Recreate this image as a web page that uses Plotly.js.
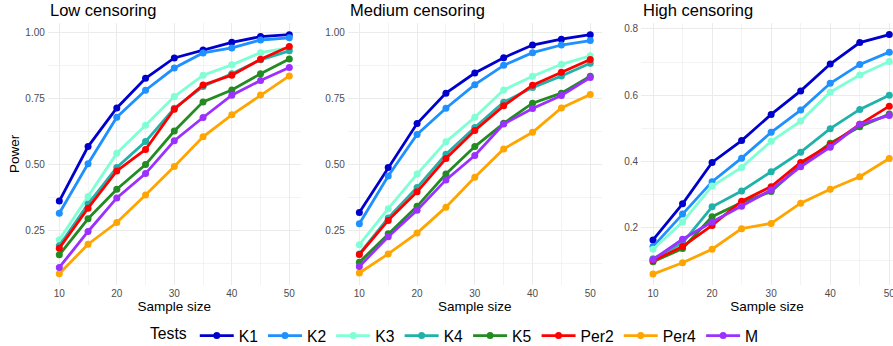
<!DOCTYPE html>
<html>
<head>
<meta charset="utf-8">
<script src="https://cdn.plot.ly/plotly-3.0.1.min.js"></script>
<style>
  html, body { margin: 0; padding: 0; background: #ffffff; }
  #chart { width: 893px; height: 346px; }
</style>
</head>
<body>
<div id="chart"></div>
<script>
// Power of each test by sample size, under three censoring levels
const sampleSizes = [10, 15, 20, 25, 30, 35, 40, 45, 50];
const testNames = ['K1', 'K2', 'K3', 'K4', 'K5', 'Per2', 'Per4', 'M'];
const panelTitles = ['Low censoring', 'Medium censoring', 'High censoring'];

// Low censoring
const low_K1   = [0.362, 0.568, 0.714, 0.826, 0.903, 0.933, 0.962, 0.984, 0.991];
const low_K2   = [0.316, 0.503, 0.679, 0.781, 0.865, 0.922, 0.941, 0.971, 0.979];
const low_K3   = [0.216, 0.379, 0.543, 0.649, 0.757, 0.838, 0.877, 0.923, 0.942];
const low_K4   = [0.193, 0.351, 0.489, 0.587, 0.713, 0.795, 0.843, 0.896, 0.930];
const low_K5   = [0.159, 0.295, 0.407, 0.500, 0.627, 0.737, 0.782, 0.843, 0.899];
const low_Per2 = [0.184, 0.335, 0.476, 0.557, 0.709, 0.801, 0.838, 0.898, 0.946];
const low_Per4 = [0.087, 0.199, 0.281, 0.385, 0.493, 0.605, 0.688, 0.763, 0.835];
const low_M    = [0.111, 0.247, 0.374, 0.466, 0.590, 0.678, 0.762, 0.818, 0.867];

// Medium censoring
const med_K1   = [0.319, 0.489, 0.655, 0.770, 0.846, 0.904, 0.952, 0.974, 0.991];
const med_K2   = [0.276, 0.457, 0.614, 0.713, 0.802, 0.875, 0.923, 0.952, 0.969];
const med_K3   = [0.197, 0.333, 0.464, 0.586, 0.679, 0.782, 0.834, 0.879, 0.911];
const med_K4   = [0.162, 0.298, 0.413, 0.539, 0.640, 0.736, 0.791, 0.835, 0.883];
const med_K5   = [0.131, 0.238, 0.342, 0.464, 0.568, 0.656, 0.732, 0.770, 0.834];
const med_Per2 = [0.160, 0.289, 0.397, 0.523, 0.629, 0.722, 0.800, 0.849, 0.897];
const med_Per4 = [0.090, 0.162, 0.241, 0.339, 0.452, 0.559, 0.622, 0.714, 0.765];
const med_M    = [0.115, 0.227, 0.327, 0.442, 0.534, 0.653, 0.712, 0.761, 0.829];

// High censoring
const high_K1   = [0.163, 0.272, 0.397, 0.463, 0.542, 0.613, 0.694, 0.759, 0.783];
const high_K2   = [0.143, 0.241, 0.339, 0.410, 0.488, 0.555, 0.636, 0.693, 0.730];
const high_K3   = [0.135, 0.217, 0.326, 0.382, 0.461, 0.522, 0.609, 0.661, 0.702];
const high_K4   = [0.106, 0.154, 0.263, 0.311, 0.369, 0.428, 0.499, 0.557, 0.600];
const high_K5   = [0.097, 0.137, 0.233, 0.276, 0.309, 0.389, 0.455, 0.505, 0.543];
const high_Per2 = [0.100, 0.143, 0.207, 0.280, 0.324, 0.397, 0.450, 0.512, 0.567];
const high_Per4 = [0.060, 0.094, 0.135, 0.197, 0.213, 0.274, 0.316, 0.354, 0.409];
const high_M    = [0.104, 0.165, 0.217, 0.265, 0.314, 0.384, 0.443, 0.512, 0.539];

const panels = [
  [low_K1, low_K2, low_K3, low_K4, low_K5, low_Per2, low_Per4, low_M],
  [med_K1, med_K2, med_K3, med_K4, med_K5, med_Per2, med_Per4, med_M],
  [high_K1, high_K2, high_K3, high_K4, high_K5, high_Per2, high_Per4, high_M]
];

const testColors = ['#0000CD', '#1E90FF', '#7FFFD4', '#20B2AA', '#228B22', '#FF0000', '#FFA500', '#9B30FF'];

const FONT = 'Liberation Sans, Arial, Helvetica, sans-serif';
const W = 893;

const traces = [];
panels.forEach((series, p) => {
  const ax = p === 0 ? '' : String(p + 1);
  series.forEach((vals, i) => {
    traces.push({
      type: 'scatter',
      mode: 'lines+markers',
      x: sampleSizes,
      y: vals,
      name: testNames[i],
      legendgroup: testNames[i],
      showlegend: p === 0,
      xaxis: 'x' + ax,
      yaxis: 'y' + ax,
      line: { color: testColors[i], width: 2.8 },
      marker: { color: testColors[i], size: 7 },
      cliponaxis: false
    });
  });
});

const grid = '#EBEBEB';
function xAxis(domain, range) {
  return {
    domain: domain, range: range,
    automargin: false,
    tick0: 10, dtick: 10,
    showgrid: true, gridcolor: grid, gridwidth: 1,
    minor: { dtick: 5, showgrid: true, gridcolor: grid, gridwidth: 0.6 },
    zeroline: false, showline: false, ticks: '',
    tickfont: { family: FONT, size: 10, color: '#4D4D4D' },
    ticklabelstandoff: 1,
    ticklabeloverflow: 'allow',
    title: { text: 'Sample size', font: { family: FONT, size: 13.5, color: '#000000' }, standoff: 1 }
  };
}
function yAxis(range, dtick, fmt, anchor, withTitle) {
  const a = {
    range: range, dtick: dtick, tick0: 0, tickformat: fmt,
    anchor: anchor,
    automargin: false,
    showgrid: true, gridcolor: grid, gridwidth: 1,
    minor: { dtick: dtick / 2, showgrid: true, gridcolor: grid, gridwidth: 0.6 },
    zeroline: false, showline: false, ticks: '',
    tickfont: { family: FONT, size: 10, color: '#4D4D4D' },
    ticklabelstandoff: 2
  };
  if (withTitle) {
    a.title = { text: 'Power', font: { family: FONT, size: 13.5, color: '#000000' }, standoff: 2 };
  }
  return a;
}

const px = v => v / W;
const titleY = 1.05;
const annotations = panelTitles.map((t, p) => ({
  text: t,
  xref: 'paper', yref: 'paper',
  x: [px(47.8), px(347.8), px(641.2)][p],
  y: titleY,
  xanchor: 'left', yanchor: 'middle',
  showarrow: false,
  font: { family: FONT, size: 16.5, color: '#000000' }
}));

const layout = {
  width: 893, height: 346,
  margin: { l: 0, r: 0, t: 23, b: 61, pad: 0, autoexpand: false },
  paper_bgcolor: '#ffffff', plot_bgcolor: '#ffffff',
  font: { family: FONT },
  showlegend: true,
  legend: {
    orientation: 'h',
    x: px(148), xanchor: 'left',
    y: -0.194, yanchor: 'middle',
    itemwidth: 34,
    font: { family: FONT, size: 15.7, color: '#000000' },
    title: { text: 'Tests', side: 'left', font: { family: FONT, size: 15.7, color: '#000000' } },
    bgcolor: 'rgba(0,0,0,0)',
    traceorder: 'normal'
  },
  xaxis: xAxis([px(47.8), px(300.8)], [8, 52]),
  xaxis2: Object.assign(xAxis([px(347.8), px(601.8)], [8, 52]), { anchor: 'y2' }),
  xaxis3: Object.assign(xAxis([px(641.2), 1], [8, 50.63]), { anchor: 'y3' }),
  yaxis: yAxis([0.0447, 1.0352], 0.25, '.2f', 'x', true),
  yaxis2: yAxis([0.0447, 1.0352], 0.25, '.2f', 'x2', false),
  yaxis3: yAxis([0.027, 0.818], 0.2, '.1f', 'x3', false),
  annotations: annotations
};
layout.xaxis.anchor = 'y';

Plotly.newPlot('chart', traces, layout, { staticPlot: true, displayModeBar: false });
</script>
</body>
</html>
